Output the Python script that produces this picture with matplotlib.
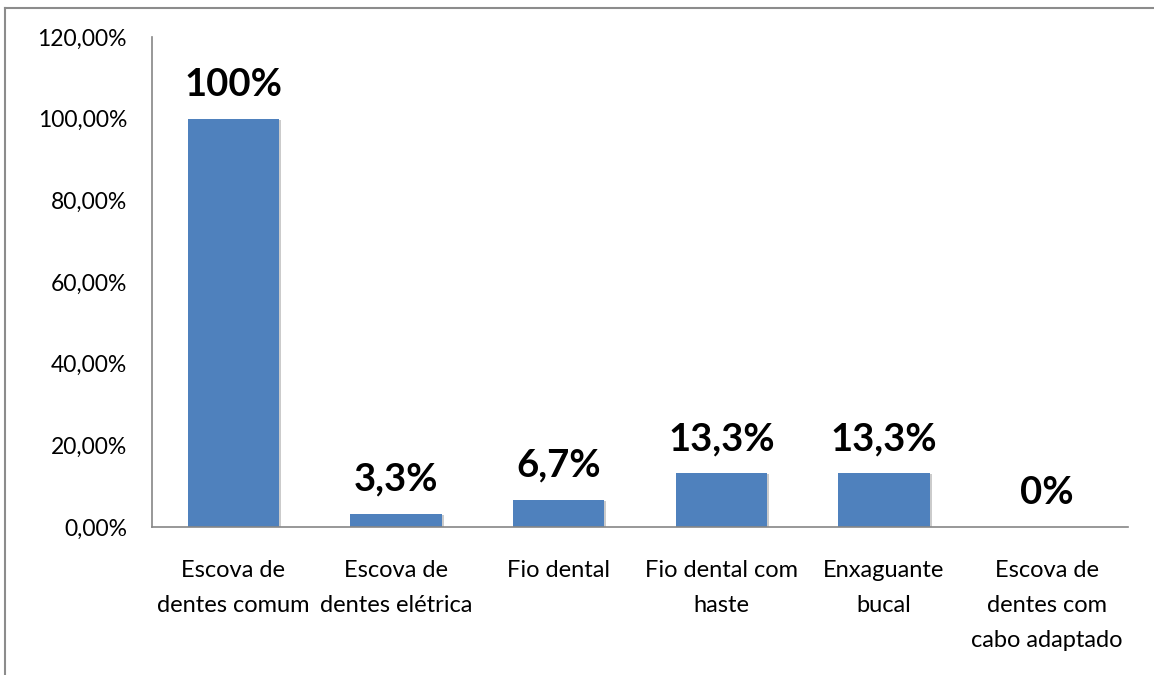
import matplotlib.pyplot as plt
import matplotlib.patheffects as pe
from matplotlib.lines import Line2D

# Higiene oral: uso de cada item (%)
categorias = [
    "Escova de\ndentes comum",
    "Escova de\ndentes elétrica",
    "Fio dental",
    "Fio dental com\nhaste",
    "Enxaguante\nbucal",
    "Escova de\ndentes com\ncabo adaptado",
]
valores = [100, 3.3, 6.7, 13.3, 13.3, 0]
y_ticks = [0, 20, 40, 60, 80, 100, 120]

plt.rcParams['font.family'] = ['Lato', 'DejaVu Sans']

fig = plt.figure(figsize=(11.54, 6.75), dpi=100)
ax = fig.add_axes([152 / 1154, (675 - 527) / 675, (1128 - 152) / 1154, (527 - 37) / 675])

x = range(len(categorias))
bars = ax.bar(x, valores, width=0.56, color="#4F81BD", zorder=2)
for b in bars:
    b.set_path_effects([pe.SimplePatchShadow(offset=(1.5, -1), shadow_rgbFace="#999999", alpha=0.5), pe.Normal()])

# rótulos de valor acima das barras
for xi, v in zip(x, valores):
    txt = f"{int(v)}%" if v == int(v) else f"{v:.1f}".replace(".", ",") + "%"
    ax.annotate(txt, (xi, v), xytext=(0, 12), textcoords="offset points",
                ha="center", va="bottom", fontsize=27.5, fontweight="bold")

ax.set_xlim(-0.5, len(categorias) - 0.5)
ax.set_ylim(0, 120)
ax.set_yticks(y_ticks)
ax.set_yticklabels([f"{t:.2f}".replace(".", ",") + "%" for t in y_ticks], fontsize=16.5)
ax.set_xticks(list(x))
ax.set_xticklabels(categorias, fontsize=17, linespacing=1.8, va="top")
ax.tick_params(axis="both", length=0)
ax.tick_params(axis="y", pad=18)
ax.tick_params(axis="x", pad=24)

for s in ["top", "right"]:
    ax.spines[s].set_visible(False)
for s in ["left", "bottom"]:
    ax.spines[s].set_color("#868686")
    ax.spines[s].set_linewidth(1.2)

# moldura da área do gráfico
fig.add_artist(Line2D([5 / 1154, 1], [1 - 7.5 / 675] * 2, color="#8c8c8c", lw=1.5))
fig.add_artist(Line2D([5 / 1154] * 2, [0, 1 - 7.5 / 675], color="#8c8c8c", lw=1.5))

fig.savefig("out.png", dpi=100)
